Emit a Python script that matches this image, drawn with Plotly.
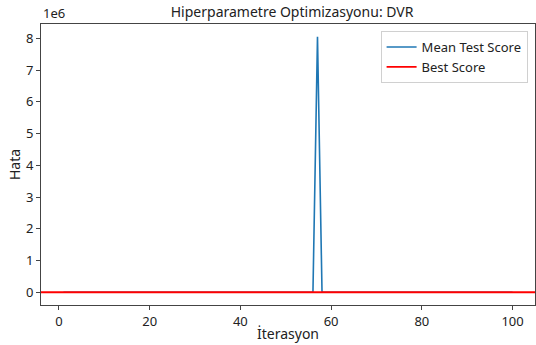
import plotly.graph_objects as go

# Iteration numbers and mean test error per iteration
iterations = list(range(1, 101))
mean_test_score = [
    41.2, 38.7, 36.9, 35.4, 37.8, 34.1, 33.6, 35.2, 32.9, 31.8,
    33.4, 30.7, 32.1, 29.8, 31.5, 30.2, 28.9, 29.6, 30.8, 28.4,
    27.9, 29.1, 28.2, 27.6, 28.8, 27.1, 26.9, 27.8, 26.5, 27.3,
    26.2, 25.9, 26.8, 25.7, 26.4, 25.5, 25.9, 25.2, 26.1, 25.0,
    25.6, 24.9, 25.3, 24.7, 25.1, 24.8, 24.6, 25.0, 24.5, 24.9,
    24.4, 24.7, 24.3, 24.6, 24.2, 24.5, 8.05e6, 24.4, 24.1, 24.3,
    24.0, 24.2, 23.9, 24.1, 23.8, 24.0, 23.9, 23.7, 23.9, 23.6,
    23.8, 23.5, 23.7, 23.6, 23.4, 23.6, 23.5, 23.3, 23.5, 23.4,
    23.2, 23.4, 23.3, 23.1, 23.3, 23.2, 23.0, 23.2, 23.1, 22.9,
    23.1, 23.0, 22.8, 23.0, 22.9, 22.8, 22.9, 22.7, 22.8, 22.7,
]
best_score = min(mean_test_score)

y_ticks = [0, 1e6, 2e6, 3e6, 4e6, 5e6, 6e6, 7e6, 8e6]
y_tick_text = ["0", "1", "2", "3", "4", "5", "6", "7", "8"]
x_ticks = [0, 20, 40, 60, 80, 100]

FAMILY = "Noto Sans"
INK = "#222222"
font = dict(family=FAMILY, size=13, color=INK)

fig = go.Figure()
fig.add_trace(go.Scatter(
    x=iterations, y=mean_test_score, mode="lines", name="Mean Test Score",
    line=dict(color="#1f77b4", width=1.6),
))
fig.add_trace(go.Scatter(
    x=[-10, 120], y=[best_score, best_score], mode="lines", name="Best Score",
    line=dict(color="#ff0000", width=1.8),
))

span = max(mean_test_score) - min(mean_test_score)
ymin = min(mean_test_score) - 0.05 * span
ymax = max(mean_test_score) + 0.05 * span
xspan = iterations[-1] - iterations[0]

fig.update_layout(
    width=536, height=345,
    margin=dict(l=41, r=1, t=24, b=40),
    paper_bgcolor="white", plot_bgcolor="white",
    font=font,
    title=dict(text="Hiperparametre Optimizasyonu: DVR", x=0.545,
               xanchor="center", y=1 - 12 / 345, yanchor="middle",
               font=dict(family=FAMILY, size=14, color=INK)),
    showlegend=True,
    legend=dict(x=0.985, y=0.975, xanchor="right", yanchor="top",
                bgcolor="rgba(255,255,255,0.8)", bordercolor="#d0d0d0", borderwidth=1,
                font=dict(family=FAMILY, size=13, color=INK),
                tracegroupgap=0, itemwidth=30),
    xaxis=dict(
        range=[iterations[0] - 0.05 * xspan, iterations[-1] + 0.05 * xspan],
        tickvals=x_ticks, ticks="outside", ticklen=4, tickcolor="#444444",
        showline=True, mirror=True, linecolor="#444444", linewidth=1,
        showgrid=False, zeroline=False,
        title=dict(text="İterasyon", standoff=0, font=dict(family=FAMILY, size=14)),
    ),
    yaxis=dict(
        range=[ymin, ymax],
        tickvals=y_ticks, ticktext=y_tick_text, ticks="outside", ticklen=4,
        tickcolor="#444444",
        showline=True, mirror=True, linecolor="#444444", linewidth=1,
        showgrid=False, zeroline=False,
        title=dict(text="Hata", standoff=2, font=dict(family=FAMILY, size=14)),
    ),
    annotations=[dict(text="1e6", xref="paper", yref="paper", x=0, y=1,
                      xanchor="left", yanchor="bottom", showarrow=False,
                      font=dict(family=FAMILY, size=13, color=INK))],
)

fig.write_html("out.html")
